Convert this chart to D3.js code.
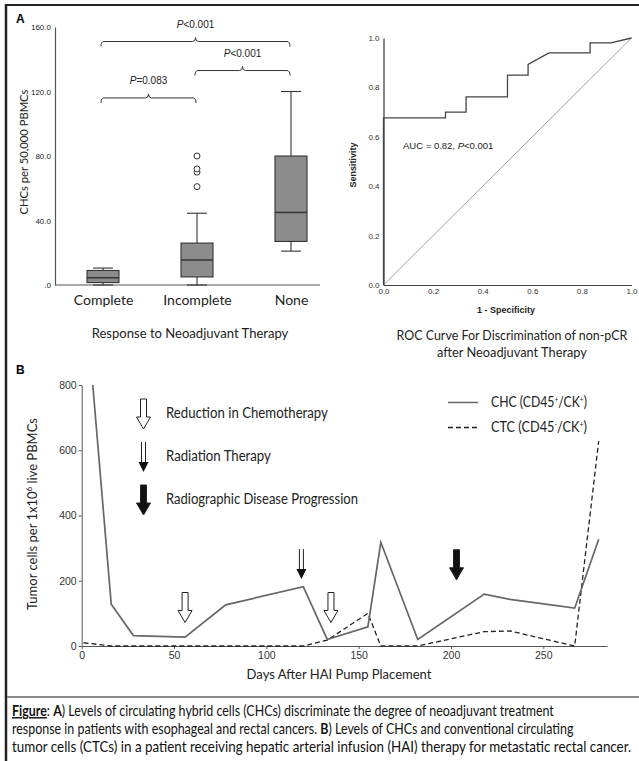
<!DOCTYPE html>
<html lang="en">
<head>
<meta charset="UTF-8">
<title>CHC figure</title>
<style>
  body { margin: 0; background: #fff; }
  svg { display: block; }
</style>
</head>
<body>
<script src="https://d3js.org/d3.v7.min.js"></script>
<script>

// ---- Panel A : box plot data
const groups     = ['Complete', 'Incomplete', 'None'];
const boxLow     = [0, 0, 21];
const boxQ1      = [1.5, 5, 27];
const boxMedian  = [4.5, 15.5, 45];
const boxQ3      = [9, 26, 80];
const boxHigh    = [10.5, 44.5, 120];
const outliers   = [[], [61, 70, 72, 80], []];
const yTicksA      = [0, 40, 80, 120, 160];
const yTickLabelsA = ['.0', '40.0', '80.0', '120.0', '160.0'];

// brackets : from group, to group, level (in CHC units), p label
const bracketFrom  = ['Complete', 'Incomplete', 'Complete'];
const bracketTo    = ['None', 'None', 'Incomplete'];
const bracketLevel = [151, 133, 116];
const bracketText  = ['<0.001', '<0.001', '=0.083'];

// ---- ROC data
const rocFpr = [0, 0, 0.25, 0.25, 0.333, 0.333, 0.5, 0.5, 0.583, 0.583, 0.667, 0.833, 0.833, 0.917, 1];
const rocTpr = [0, 0.677, 0.677, 0.70, 0.70, 0.762, 0.762, 0.85, 0.85, 0.893, 0.94, 0.94, 0.98, 0.98, 1];
const rocTicks = [0, 0.2, 0.4, 0.6, 0.8, 1.0];

// ---- Panel B : time course
const chcDays   = [6, 16, 28, 56, 78, 120, 133, 155, 162, 182, 218, 232, 267, 280];
const chcValues = [800, 128, 32, 27, 126, 182, 20, 59, 318, 20, 159, 143, 116, 327];
const ctcDays   = [1, 16, 120, 133, 155, 162, 182, 218, 232, 267, 280];
const ctcValues = [10, 0, 0, 18, 100, 0, 0, 44, 46, 0, 628];
const xTicksB = [0, 50, 100, 150, 200, 250];
const yTicksB = [0, 200, 400, 600, 800];

// event arrows : day, kind, value at arrow tip
const arrowDays  = [56, 119, 135, 203];
const arrowKinds = ['chemo', 'radiation', 'chemo', 'progression'];
const arrowTips  = [72, 205, 72, 203];

const legendKinds = ['chemo', 'radiation', 'progression'];
const legendTexts = ['Reduction in Chemotherapy', 'Radiation Therapy', 'Radiographic Disease Progression'];
const legendWidths = [162, 105, 192];

const calibri = "Lato, 'Open Sans', sans-serif";
const arial   = "'Liberation Sans', Arial, sans-serif";

const svg = d3.select('body').append('svg')
              .attr('width', 639)
              .attr('height', 761);

// shrink / grow a text so it takes the given width
function fit(sel, width){
    let size = +sel.attr('font-size');
    let w = sel.node().getComputedTextLength();
    sel.attr('font-size', (size * width / w).toFixed(2));
}

// narrow a text horizontally (Calibri is narrower than Lato), keeping its anchor at x
function squash(sel, width, minScale){
    let w = sel.node().getComputedTextLength();
    let s = width / w;
    if (minScale) s = Math.max(s, minScale);
    let x = +sel.attr('x');
    sel.attr('transform', `translate(${(x * (1 - s)).toFixed(2)},0) scale(${s.toFixed(4)},1)`);
    return s;
}

// frame
svg.append('line').attr('x1', 5).attr('x2', 639).attr('y1', 5).attr('y2', 5)
   .attr('stroke', '#222').attr('stroke-width', 2);
svg.append('line').attr('x1', 6).attr('x2', 6).attr('y1', 4).attr('y2', 761)
   .attr('stroke', '#222').attr('stroke-width', 2.5);
svg.append('line').attr('x1', 7).attr('x2', 639).attr('y1', 697).attr('y2', 697)
   .attr('stroke', '#888').attr('stroke-width', 2);

// panel letters
svg.append('text').attr('x', 16).attr('y', 23).text('A')
   .attr('font-family', arial).attr('font-weight', 'bold').attr('font-size', 12);
svg.append('text').attr('x', 16).attr('y', 374).text('B')
   .attr('font-family', arial).attr('font-weight', 'bold').attr('font-size', 12);

// ================= Panel A : box plot =================
let xA = d3.scalePoint().domain(groups).range([103, 291]);
let yA = d3.scaleLinear().domain([0, 160]).range([285, 27]);

let gA = svg.append('g');

let axeYA = d3.axisLeft(yA).tickValues(yTicksA)
              .tickFormat(function(d, i){ return yTickLabelsA[i]; })
              .tickSize(0).tickPadding(4);
gA.append('g').attr('transform', 'translate(55,0)').call(axeYA)
  .call(function(g){
      g.select('.domain').attr('stroke', '#555').attr('stroke-width', 1.2);
      g.selectAll('text').attr('font-family', arial).attr('font-size', 8).attr('fill', '#222');
  });

// baseline
gA.append('line').attr('x1', 55).attr('x2', 320).attr('y1', yA(0)).attr('y2', yA(0))
  .attr('stroke', '#555').attr('stroke-width', 1.2);

let axeXA = d3.axisBottom(xA).tickSize(0).tickPadding(10);
gA.append('g').attr('transform', `translate(0, ${yA(0)})`).call(axeXA)
  .call(function(g){
      g.select('.domain').remove();
      g.selectAll('text').attr('font-family', calibri).attr('font-size', 14).attr('fill', '#222');
  });

let ylabA = gA.append('text').attr('transform', 'translate(28,152) rotate(-90)')
  .attr('text-anchor', 'middle').attr('font-family', calibri).attr('font-size', 13)
  .attr('fill', '#222').text('CHCs per 50,000 PBMCs');
fit(ylabA, 125);

let titleA = gA.append('text').attr('x', 190).attr('y', 338).attr('text-anchor', 'middle')
  .attr('font-family', calibri).attr('font-size', 14).attr('fill', '#222')
  .text('Response to Neoadjuvant Therapy');
squash(titleA, 197);

const boxW = 32, capW = 20;
groups.forEach(function(gname, i){
    let cx = xA(gname);
    let b = gA.append('g').attr('stroke', '#333').attr('stroke-width', 1.1);
    b.append('line').attr('x1', cx).attr('x2', cx).attr('y1', yA(boxLow[i])).attr('y2', yA(boxQ1[i]));
    b.append('line').attr('x1', cx).attr('x2', cx).attr('y1', yA(boxQ3[i])).attr('y2', yA(boxHigh[i]));
    b.append('line').attr('x1', cx - capW / 2).attr('x2', cx + capW / 2).attr('y1', yA(boxHigh[i])).attr('y2', yA(boxHigh[i]));
    b.append('line').attr('x1', cx - capW / 2).attr('x2', cx + capW / 2).attr('y1', yA(boxLow[i])).attr('y2', yA(boxLow[i]));
    b.append('rect').attr('x', cx - boxW / 2).attr('width', boxW)
     .attr('y', yA(boxQ3[i])).attr('height', yA(boxQ1[i]) - yA(boxQ3[i]))
     .attr('fill', '#8c8c8c');
    b.append('line').attr('x1', cx - boxW / 2).attr('x2', cx + boxW / 2)
     .attr('y1', yA(boxMedian[i])).attr('y2', yA(boxMedian[i])).attr('stroke-width', 1.5);
    b.selectAll('circle').data(outliers[i]).enter().append('circle')
     .attr('cx', cx).attr('cy', function(d){ return yA(d); }).attr('r', 3)
     .attr('fill', 'white').attr('stroke-width', 1);
});

function bracketPath(x1, x2, y){
    let xm = (x1 + x2) / 2, r = 3;
    return `M${x1},${y + 5} Q${x1},${y} ${x1 + r},${y} L${xm - r},${y} Q${xm},${y} ${xm},${y - 4}` +
           ` Q${xm},${y} ${xm + r},${y} L${x2 - r},${y} Q${x2},${y} ${x2},${y + 5}`;
}

bracketFrom.forEach(function(f, i){
    let x1 = xA(f) - 2, x2 = xA(bracketTo[i]) - 1, y = yA(bracketLevel[i]);
    gA.append('path').attr('d', bracketPath(x1, x2, y))
      .attr('fill', 'none').attr('stroke', '#333').attr('stroke-width', 1);
    let t = gA.append('text').attr('x', (x1 + x2) / 2).attr('y', y - 14)
              .attr('text-anchor', 'middle').attr('font-family', arial)
              .attr('font-size', 10).attr('fill', '#222');
    t.append('tspan').attr('font-style', 'italic').text('P');
    t.append('tspan').text(bracketText[i]);
});

// ================= ROC =================
let xR = d3.scaleLinear().domain([0, 1]).range([383.5, 631.5]);
let yR = d3.scaleLinear().domain([0, 1]).range([285, 38]);
let gR = svg.append('g');

gR.append('g').attr('transform', `translate(${xR(0)},0)`)
  .call(d3.axisLeft(yR).tickValues(rocTicks).tickFormat(d3.format('.1f')).tickSize(0).tickPadding(4))
  .call(function(g){
      g.select('.domain').attr('stroke', '#444').attr('stroke-width', 1.3);
      g.selectAll('text').attr('font-family', arial).attr('font-size', 8).attr('fill', '#333');
  });
gR.append('g').attr('transform', `translate(0,${yR(0)})`)
  .call(d3.axisBottom(xR).tickValues(rocTicks).tickFormat(d3.format('.1f')).tickSize(0).tickPadding(3))
  .call(function(g){
      g.select('.domain').attr('stroke', '#444').attr('stroke-width', 1);
      g.selectAll('text').attr('font-family', arial).attr('font-size', 8).attr('fill', '#333');
  });

gR.append('line').attr('x1', xR(0)).attr('y1', yR(0)).attr('x2', xR(1)).attr('y2', yR(1))
  .attr('stroke', '#999').attr('stroke-width', 0.9);

gR.append('path').datum(rocFpr.map(function(d, i){ return [d, rocTpr[i]]; }))
  .attr('fill', 'none').attr('stroke', '#444').attr('stroke-width', 1.3)
  .attr('d', d3.line().x(function(d){ return xR(d[0]); }).y(function(d){ return yR(d[1]); }));

gR.append('text').attr('transform', 'translate(356,165) rotate(-90)')
  .attr('text-anchor', 'middle').attr('font-family', arial).attr('font-weight', 'bold')
  .attr('font-size', 9).attr('fill', '#222').text('Sensitivity');
gR.append('text').attr('x', 506).attr('y', 313).attr('text-anchor', 'middle')
  .attr('font-family', arial).attr('font-weight', 'bold')
  .attr('font-size', 9).attr('fill', '#222').text('1 - Specificity');

let auc = gR.append('text').attr('x', 403).attr('y', 149)
            .attr('font-family', arial).attr('font-size', 9.5).attr('fill', '#222');
auc.append('tspan').text('AUC = 0.82, ');
auc.append('tspan').attr('font-style', 'italic').text('P');
auc.append('tspan').text('<0.001');

let rocT1 = gR.append('text').attr('x', 512).attr('y', 340).attr('text-anchor', 'middle')
  .attr('font-family', calibri).attr('font-size', 14).attr('fill', '#222')
  .text('ROC Curve For Discrimination of non-pCR');
squash(rocT1, 231);
let rocT2 = gR.append('text').attr('x', 512).attr('y', 357).attr('text-anchor', 'middle')
  .attr('font-family', calibri).attr('font-size', 14).attr('fill', '#222')
  .text('after Neoadjuvant Therapy');
squash(rocT2, 150);

// ================= Panel B =================
let xB = d3.scaleLinear().domain([0, 284.5]).range([81.7, 607]);
let yB = d3.scaleLinear().domain([0, 800]).range([646, 385]);
let gB = svg.append('g');

gB.append('g').attr('transform', `translate(${xB(0)},0)`)
  .call(d3.axisLeft(yB).tickValues(yTicksB).tickSizeInner(3).tickSizeOuter(0).tickPadding(2))
  .call(function(g){
      g.selectAll('path, line').attr('stroke', '#555');
      g.selectAll('text').attr('font-family', arial).attr('font-size', 10.5).attr('fill', '#333');
  });
gB.append('g').attr('transform', `translate(0,${yB(0)})`)
  .call(d3.axisBottom(xB).tickValues(xTicksB).tickSizeInner(3).tickSizeOuter(0).tickPadding(3))
  .call(function(g){
      g.selectAll('path, line').attr('stroke', '#555');
      g.selectAll('text').attr('font-family', arial).attr('font-size', 10.5).attr('fill', '#333');
  });

let ylabB = gB.append('text').attr('transform', 'translate(37,514) rotate(-90)')
              .attr('text-anchor', 'middle').attr('font-family', calibri)
              .attr('font-size', 13).attr('fill', '#222');
ylabB.append('tspan').text('Tumor cells per 1x10');
ylabB.append('tspan').attr('font-size', 8).attr('dy', -5).text('6');
ylabB.append('tspan').attr('dy', 5).text(' live PBMCs');

let xlabB = gB.append('text').attr('x', 339).attr('y', 679).attr('text-anchor', 'middle')
  .attr('font-family', calibri).attr('font-size', 14).attr('fill', '#222')
  .text('Days After HAI Pump Placement');
squash(xlabB, 185);

let lineB = d3.line().x(function(d){ return xB(d[0]); }).y(function(d){ return yB(d[1]); });

gB.append('path').datum(ctcDays.map(function(d, i){ return [d, ctcValues[i]]; }))
  .attr('fill', 'none').attr('stroke', '#222').attr('stroke-width', 1.3)
  .attr('stroke-dasharray', '5,3').attr('d', lineB);
gB.append('path').datum(chcDays.map(function(d, i){ return [d, chcValues[i]]; }))
  .attr('fill', 'none').attr('stroke', '#666').attr('stroke-width', 1.7).attr('d', lineB);

function drawArrow(g, kind, cx, tip, h){
    let top = tip - h;
    if (kind === 'radiation') {
        g.append('line').attr('x1', cx - 2).attr('x2', cx - 2).attr('y1', top).attr('y2', tip - 8)
         .attr('stroke', '#222').attr('stroke-width', 1);
        g.append('line').attr('x1', cx + 2).attr('x2', cx + 2).attr('y1', top).attr('y2', tip - 8)
         .attr('stroke', '#222').attr('stroke-width', 1);
        g.append('path').attr('d', `M${cx - 5},${tip - 10} L${cx + 5},${tip - 10} L${cx},${tip} Z`)
         .attr('fill', '#111');
        return;
    }
    let p = `M${cx - 3},${top} L${cx + 3},${top} L${cx + 3},${tip - 12} L${cx + 7},${tip - 12}` +
            ` L${cx},${tip} L${cx - 7},${tip - 12} L${cx - 3},${tip - 12} Z`;
    g.append('path').attr('d', p)
     .attr('fill', kind === 'chemo' ? 'white' : '#111')
     .attr('stroke', '#222').attr('stroke-width', 1);
}

arrowDays.forEach(function(d, i){
    drawArrow(gB, arrowKinds[i], xB(d), yB(arrowTips[i]), 30);
});

// arrow legend
legendKinds.forEach(function(k, i){
    let ty = 429 + i * 43;
    drawArrow(gB, k, 143.5, ty, 30);
    let t = gB.append('text').attr('x', 166).attr('y', ty - 11)
      .attr('font-family', calibri).attr('font-size', 15).attr('fill', '#222')
      .text(legendTexts[i]);
    squash(t, legendWidths[i]);
});

// line legend
const legDash = ['none', '5,3'];
const legColor = ['#666', '#222'];
const legMain = ['CHC (CD45', 'CTC (CD45'];
const legSign = ['+', '-'];
legMain.forEach(function(t, i){
    let y = 402.5 + i * 25;
    gB.append('line').attr('x1', 448).attr('x2', 478).attr('y1', y).attr('y2', y)
      .attr('stroke', legColor[i]).attr('stroke-width', 1.5).attr('stroke-dasharray', legDash[i]);
    let tx = gB.append('text').attr('x', 491).attr('y', y + 5)
               .attr('font-family', calibri).attr('font-size', 15).attr('fill', '#222');
    tx.append('tspan').text(t);
    tx.append('tspan').attr('font-size', 8).attr('dy', -5).text(legSign[i]);
    tx.append('tspan').attr('dy', 5).text('/CK');
    tx.append('tspan').attr('font-size', 8).attr('dy', -5).text('+');
    tx.append('tspan').attr('dy', 5).text(')');
    squash(tx, 96);
});

// ================= caption =================
let c3 = svg.append('text').attr('x', 12).attr('y', 752)
            .attr('font-family', calibri).attr('font-size', 14.5).attr('fill', '#111')
            .text('tumor cells (CTCs) in a patient receiving hepatic arterial infusion (HAI) therapy for metastatic rectal cancer.');
let s3 = squash(c3, 620);

let c1 = svg.append('text').attr('x', 12).attr('y', 716)
            .attr('font-family', calibri).attr('font-size', 14.5).attr('fill', '#111');
c1.append('tspan').attr('font-weight', 'bold').attr('text-decoration', 'underline').text('Figure');
c1.append('tspan').text(': ');
c1.append('tspan').attr('font-weight', 'bold').text('A');
c1.append('tspan').text(') Levels of circulating hybrid cells (CHCs) discriminate the degree of neoadjuvant treatment');
squash(c1, 493, s3 * 0.93);

let c2 = svg.append('text').attr('x', 12).attr('y', 734)
            .attr('font-family', calibri).attr('font-size', 14.5).attr('fill', '#111');
c2.append('tspan').text('response in patients with esophageal and rectal cancers. ');
c2.append('tspan').attr('font-weight', 'bold').text('B');
c2.append('tspan').text(') Levels of CHCs and conventional circulating');
squash(c2, 495, s3 * 0.93);

</script>
</body>
</html>
